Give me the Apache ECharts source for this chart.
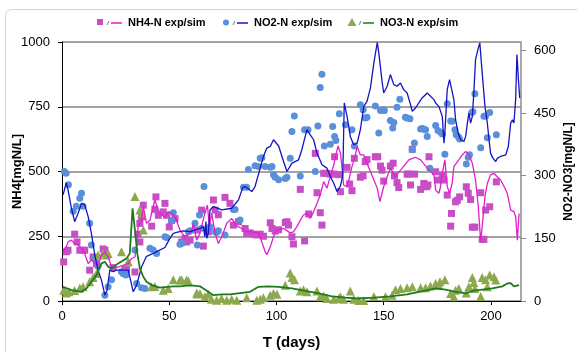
<!DOCTYPE html>
<html>
<head>
    <meta charset="utf-8">
    <script type="text/javascript" src="https://cdn.jsdelivr.net/npm/echarts@6/dist/echarts.min.js"></script>
    <title>NH4 / NO2 / NO3</title>
</head>
<body style="margin:0;background:#fff;">
    <div id="container" style="width:577px;height:352px;"></div>
    <script type="text/javascript">
    // 数据: [天数, 浓度]
    var nh4Exp = [
        [0.8,151],[2.0,190],[2.8,196],[5.9,258],[7.0,228],[8.3,196],[9.8,196],[10.6,196],[12.9,119],[14.5,170],
        [16.1,144],[19.2,201],[20.0,196],[23.8,129],[29.3,124],[30.1,121],[34.0,112],[35.4,258],[36.3,228],[36.3,300],
        [37.1,325],[37.9,370],[41.8,289],[43.3,354],[43.8,402],[44.9,331],[47.2,344],[48.0,377],[48.8,331],[50.0,286],
        [51.1,311],[52.7,318],[55.8,228],[57.3,241],[58.1,228],[59.7,235],[62.8,274],[65.1,351],[65.9,212],[68.2,267],
        [70.6,390],[71.4,351],[72.9,333],[76.0,400],[78.3,377],[79.9,293],[82.3,306],[85.4,280],[86.1,261],[87.7,263],
        [89.3,258],[90.8,255],[92.4,258],[93.9,250],[97.1,302],[97.9,280],[99.4,270],[101.0,275],[104.1,303],[104.9,306],
        [105.6,293],[107.2,248],[107.9,220],[111.1,431],[113.1,232],[115.0,336],[118.1,570],[118.9,418],[120.4,341],[121.2,293],
        [122.0,493],[123.5,493],[125.1,490],[126.7,490],[127.1,557],[129.0,488],[129.8,422],[132.9,516],[134.1,452],[135.2,426],
        [136.3,551],[139.1,478],[140.4,483],[141.4,538],[142.2,546],[146.1,557],[147.2,557],[148.5,521],[149.2,505],[150.0,463],
        [153.1,521],[154.4,532],[155.0,483],[156.2,457],[157.0,438],[160.9,490],[161.7,490],[162.5,448],[163.3,586],[164.4,490],
        [167.2,431],[168.7,454],[170.0,441],[170.6,448],[171.1,557],[174.2,499],[175.3,467],[177.3,483],[178.1,467],[179.6,409],
        [181.2,289],[181.6,338],[183.5,383],[184.3,389],[185.4,402],[188.5,441],[189.4,416],[190.5,392],[191.3,285],[192.5,285],
        [195.2,418],[195.9,238],[196.7,238],[197.5,351],[199.4,364],[202.5,460]
    ];
    var nh4Sim = [
        [0.5,190],[2.0,209],[2.8,228],[4.4,235],[5.9,222],[7.5,216],[9.1,203],[10.6,183],[12.2,145],[13.7,158],
        [15.3,145],[16.8,138],[18.4,177],[20.0,190],[21.5,170],[23.1,132],[25.4,129],[28.5,138],[30.9,145],[32.4,164],
        [34.0,170],[34.8,209],[35.5,287],[37.1,312],[37.9,364],[39.4,300],[41.0,312],[42.5,364],[43.3,390],[44.9,351],
        [46.4,332],[48.0,325],[49.5,345],[51.1,338],[52.7,325],[55.0,274],[57.3,248],[60.4,267],[61.2,300],[62.8,235],
        [64.3,261],[66.6,338],[67.8,370],[68.7,287],[69.8,338],[71.4,261],[72.9,222],[74.5,248],[76.8,300],[79.1,319],
        [81.5,289],[83.8,280],[86.1,267],[88.5,267],[91.6,263],[93.2,228],[94.7,190],[95.5,179],[97.1,209],[98.6,248],
        [100.2,274],[103.3,280],[106.4,263],[107.9,267],[109.5,287],[111.1,312],[112.6,332],[114.2,338],[115.7,319],[117.3,345],
        [118.9,377],[120.4,409],[122.0,461],[123.5,435],[125.1,480],[126.7,525],[127.7,564],[128.7,599],[129.8,571],[130.5,519],
        [131.3,448],[132.6,442],[133.7,467],[135.2,519],[136.8,564],[137.6,597],[139.1,564],[140.7,564],[142.2,532],[143.8,500],
        [145.4,467],[147.0,435],[148.2,384],[148.8,390],[150.0,442],[151.6,480],[153.1,513],[155.4,480],[158.6,513],[161.7,545],
        [164.8,555],[167.2,545],[170.3,513],[173.4,487],[174.2,428],[175.7,416],[176.5,442],[177.3,493],[178.5,545],[179.6,442],
        [180.7,416],[181.9,454],[182.7,519],[185.0,545],[186.6,564],[188.2,577],[189.7,564],[191.3,532],[192.8,467],[194.1,364],
        [195.2,229],[195.9,287],[197.2,403],[198.3,454],[199.8,487],[201.4,493],[202.9,480],[204.5,467],[206.1,442],[207.6,416],
        [209.2,351],[210.7,345],[211.5,325],[212.3,235],[213.1,338]
    ];
    var no2Exp = [
        [1.1,310],[1.9,306],[3.0,278],[5.2,215],[6.7,227],[8.3,246],[9.1,258],[9.8,227],[12.9,186],[13.7,134],
        [15.3,102],[16.8,83],[20.0,14],[21.5,34],[23.1,51],[27.7,70],[28.5,66],[29.8,62],[34.0,122],[34.8,42],
        [37.1,32],[38.6,30],[41.0,126],[42.5,122],[44.1,114],[48.0,154],[48.8,152],[51.1,192],[51.9,211],[55.0,136],
        [55.8,138],[58.9,166],[59.7,168],[62.0,186],[63.1,134],[64.1,206],[65.1,174],[66.2,274],[69.0,178],[71.4,166],
        [72.1,164],[72.9,168],[76.0,158],[79.9,219],[80.7,219],[83.0,194],[84.6,272],[86.1,272],[86.9,315],[90.0,324],
        [91.6,322],[92.4,342],[93.2,343],[94.7,322],[97.1,320],[97.9,322],[98.6,302],[99.4,296],[101.0,290],[104.1,293],
        [104.9,296],[106.4,342],[107.2,406],[108.3,443],[111.1,299],[113.1,410],[114.7,410],[118.1,310],[119.3,419],[120.4,511],
        [121.2,543],[122.3,371],[125.1,375],[126.2,418],[127.1,394],[127.7,384],[129.3,448],[132.1,422],[135.2,410],[136.3,371],
        [139.1,470],[140.4,458],[141.4,438],[142.2,440],[146.1,467],[147.7,402],[148.5,456],[149.7,457],[150.3,456],[153.1,432],
        [154.2,414],[154.7,427],[156.2,464],[157.5,483],[160.1,440],[160.9,438],[162.2,436],[163.3,362],[164.3,378],[167.2,412],
        [168.0,413],[168.7,411],[169.5,410],[170.3,394],[171.5,318],[174.2,420],[175.3,408],[176.5,404],[177.3,400],[178.5,351],
        [179.6,472],[181.2,431],[181.9,430],[183.2,410],[183.8,398],[184.8,393],[185.4,388],[188.5,328],[189.4,344],[190.0,350],
        [191.0,451],[191.6,453],[192.5,496],[195.2,367],[196.7,442],[197.5,443],[198.3,391],[199.4,451],[202.5,398]
    ];
    var no2Sim = [
        [0.5,254],[2.0,283],[2.8,266],[4.4,222],[5.9,190],[7.5,210],[9.1,234],[10.6,230],[12.2,202],[13.7,162],
        [15.3,110],[16.8,74],[18.4,50],[20.0,14],[21.0,26],[22.3,74],[23.8,70],[25.4,74],[30.9,74],[33.2,22],
        [34.8,38],[37.1,82],[39.4,107],[41.8,112],[44.1,118],[48.0,128],[50.3,150],[51.9,162],[53.4,164],[56.6,168],
        [59.7,166],[64.3,174],[65.9,178],[66.6,154],[67.1,190],[67.5,150],[68.2,162],[69.0,218],[70.6,226],[74.5,218],
        [79.1,222],[82.3,242],[84.3,272],[85.4,274],[88.5,262],[90.0,274],[92.4,318],[93.9,346],[95.5,366],[97.1,370],
        [98.6,386],[101.0,371],[103.3,334],[104.9,310],[105.6,306],[107.2,330],[110.3,338],[111.8,362],[113.4,394],[114.2,410],
        [115.7,398],[117.3,386],[118.9,354],[121.2,326],[123.5,318],[125.1,298],[126.7,282],[128.2,262],[129.8,275],[130.9,300],
        [131.6,474],[132.9,442],[133.7,418],[134.4,394],[136.0,374],[137.6,378],[139.1,410],[140.7,466],[142.2,478],[143.8,510],
        [145.4,570],[147.0,619],[147.7,594],[149.3,522],[150.0,498],[151.6,514],[153.1,542],[153.9,546],[154.7,518],[156.2,514],
        [157.8,522],[159.3,506],[160.9,498],[162.5,470],[163.3,454],[164.8,462],[167.9,486],[170.3,498],[173.4,482],[174.2,474],
        [175.7,466],[177.3,442],[178.1,378],[178.5,402],[179.6,506],[180.7,530],[181.6,526],[182.7,482],[183.5,434],[184.7,402],
        [185.8,386],[187.4,382],[188.2,394],[188.9,422],[189.7,450],[190.5,426],[191.3,442],[192.0,498],[192.8,578],[194.1,606],
        [194.8,618],[195.9,546],[197.2,466],[198.3,426],[199.1,386],[199.8,354],[200.9,342],[202.2,334],[203.0,342],[203.8,338],
        [204.5,346],[205.3,342],[206.9,350],[208.1,370],[209.2,426],[210.0,434],[210.7,426],[211.5,482],[212.1,590],[212.8,530],
        [213.4,486]
    ];
    var no3Exp = [
        [0.8,26],[2.0,19],[3.3,22],[5.9,25],[8.3,31],[9.8,34],[12.9,46],[14.5,56],[16.1,66],[16.8,110],
        [19.2,115],[20.7,110],[21.5,114],[27.7,118],[30.9,94],[34.0,250],[36.3,218],[37.1,210],[37.9,170],[41.8,34],
        [43.3,35],[47.2,26],[49.5,30],[51.9,51],[55.0,50],[55.8,50],[58.1,50],[58.9,48],[62.8,19],[63.1,17],
        [64.3,18],[66.6,10],[68.2,16],[69.7,4],[72.1,2],[74.4,6],[76.8,2],[79.1,4],[81.5,2],[86.1,8],
        [90.8,2],[92.4,4],[93.9,8],[97.1,14],[98.6,18],[100.2,16],[104.1,38],[106.4,67],[107.2,56],[108.4,51],
        [111.1,24],[112.6,27],[114.2,22],[118.9,24],[120.4,10],[122.0,12],[123.5,6],[126.7,4],[129.0,6],[129.8,10],
        [131.3,4],[134.4,24],[136.0,4],[138.3,1],[140.7,1],[145.4,11],[150.8,10],[153.9,14],[155.5,27],[157.8,30],
        [160.9,32],[163.3,34],[167.2,32],[169.5,32],[171.8,36],[174.2,42],[176.2,46],[175.7,38],[178.5,51],[181.2,18],
        [182.7,10],[183.5,26],[185.0,30],[188.5,19],[189.7,34],[191.3,56],[192.0,44],[192.5,30],[195.2,11],[195.9,56],
        [197.5,51],[198.3,34],[199.4,62],[201.4,58],[202.2,50]
    ];
    var no3Sim = [
        [0.5,34],[4.4,26],[9.1,22],[11.4,30],[13.7,46],[16.1,62],[18.4,90],[20.0,94],[21.5,82],[23.1,78],
        [26.2,90],[30.1,102],[31.6,114],[32.9,222],[34.0,170],[35.1,114],[36.3,78],[37.9,58],[39.4,46],[41.8,38],
        [45.6,32],[51.9,35],[55.0,35],[58.1,37],[61.2,37],[64.4,35],[65.9,30],[68.2,22],[70.6,14],[74.5,16],
        [78.3,16],[83.0,19],[87.7,22],[91.6,34],[96.3,35],[101.0,34],[107.2,30],[113.4,24],[119.6,18],[125.9,11],
        [132.1,8],[137.6,6],[145.4,8],[153.1,11],[160.9,16],[168.7,24],[174.2,30],[178.8,27],[183.5,22],[188.2,18],
        [191.3,24],[195.9,27],[200.6,30],[205.3,35],[207.6,42],[209.2,43],[210.7,35],[213.1,38]
    ];
    var xTicks = [0, 50, 100, 150, 200];
    var leftTicks = [0, 250, 500, 750, 1000];
    var rightTicks = [0, 150, 300, 450, 600];

    var colors = {
        nh4Exp: '#C64FC6', nh4Sim: '#E41ECC',
        no2Exp: '#5A8FDA', no2Sim: '#1414C4',
        no3Exp: '#8CA94F', no3Sim: '#1F7A1F'
    };
    var fontFamily = "'Liberation Sans', Arial, sans-serif";

    // 图例 (自绘: 符号 + 斜线 + 线段 + 文字)
    function legendItem(x, symbol, expColor, simColor, label) {
        var items = [];
        if (symbol === 'rect') {
            items.push({ type: 'rect', shape: { x: x - 3, y: 19, width: 6, height: 6 }, style: { fill: expColor } });
        } else if (symbol === 'circle') {
            items.push({ type: 'circle', shape: { cx: x, cy: 22.5, r: 3 }, style: { fill: expColor } });
        } else {
            items.push({ type: 'polygon', shape: { points: [[x, 18], [x + 4.5, 26], [x - 4.5, 26]] }, style: { fill: expColor } });
        }
        items.push({ type: 'line', shape: { x1: x + 7, y1: 25, x2: x + 9, y2: 21 }, style: { stroke: '#555', lineWidth: 0.8 } });
        items.push({ type: 'line', shape: { x1: x + 11, y1: 23, x2: x + 22, y2: 23 }, style: { stroke: simColor, lineWidth: 1.5 } });
        items.push({
            type: 'text', x: x + 28, y: 23,
            style: { text: label, fill: '#000', font: 'bold 11px ' + fontFamily, verticalAlign: 'middle' }
        });
        return items;
    }

    function plain(v) { return String(v); }

    var myChart = echarts.init(document.getElementById('container'), null, { renderer: 'canvas' });

    var option = {
        animation: false,
        backgroundColor: '#fff',
        textStyle: { fontFamily: fontFamily },
        grid: { left: 62, right: 56, top: 42, bottom: 51, containLabel: false, outerBoundsMode: 'none' },
        graphic: [
            { type: 'rect', z: -1, shape: { x: 5.5, y: 9.5, width: 600, height: 400, r: 6 },
              style: { fill: 'none', stroke: '#D4D4D4', lineWidth: 1 } }
        ].concat(
            legendItem(100, 'rect', colors.nh4Exp, colors.nh4Sim, 'NH4-N exp/sim'),
            legendItem(226, 'circle', colors.no2Exp, colors.no2Sim, 'NO2-N exp/sim'),
            legendItem(352, 'triangle', colors.no3Exp, colors.no3Sim, 'NO3-N exp/sim')
        ),
        xAxis: {
            type: 'value', min: 0, max: 214, interval: 50,
            name: 'T (days)', nameLocation: 'middle', nameGap: 34,
            nameTextStyle: { fontWeight: 'bold', fontSize: 15, color: '#000' },
            axisLine: { lineStyle: { color: '#000', width: 1 } },
            axisTick: { show: true, length: 4, customValues: xTicks, lineStyle: { color: '#000' } },
            axisLabel: { customValues: xTicks, fontSize: 13, color: '#000', margin: 9, formatter: plain },
            splitLine: { show: false }
        },
        yAxis: [{
            type: 'value', min: 0, max: 1000, interval: 250,
            name: 'NH4[mgN/L]', nameLocation: 'middle', nameGap: 38, nameMoveOverlap: false,
            nameTextStyle: { fontWeight: 'bold', fontSize: 13, color: '#000' },
            axisLine: { show: true, lineStyle: { color: '#000', width: 1 } },
            axisTick: { show: true, length: 4, lineStyle: { color: '#000' } },
            axisLabel: { customValues: leftTicks, fontSize: 13, color: '#000', margin: 12, formatter: plain },
            splitLine: { show: true, lineStyle: { color: '#858585', width: 1.5 } }
        }, {
            type: 'value', min: 0, max: 620, interval: 150,
            name: 'NO2-NO3[mgN/L]', nameLocation: 'middle', nameGap: 42, nameRotate: 90, nameMoveOverlap: false,
            nameTextStyle: { fontWeight: 'bold', fontSize: 12, color: '#000' },
            axisLine: { show: true, lineStyle: { color: '#8C8C8C', width: 1.5 } },
            axisTick: { show: true, length: 5, customValues: rightTicks, lineStyle: { color: '#8C8C8C' } },
            axisLabel: { customValues: rightTicks, fontSize: 13, color: '#000', margin: 13, formatter: plain },
            splitLine: { show: false }
        }],
        series: [
            { name: 'NH4-N exp', type: 'scatter', yAxisIndex: 0, data: nh4Exp, symbol: 'rect', symbolSize: 7,
              itemStyle: { color: colors.nh4Exp, opacity: 1 } },
            { name: 'NO2-N exp', type: 'scatter', yAxisIndex: 1, data: no2Exp, symbol: 'circle', symbolSize: 7,
              itemStyle: { color: colors.no2Exp, opacity: 1 } },
            { name: 'NO3-N exp', type: 'scatter', yAxisIndex: 1, data: no3Exp, symbol: 'triangle', symbolSize: 9,
              itemStyle: { color: colors.no3Exp, opacity: 1 } },
            { name: 'NH4-N sim', type: 'line', yAxisIndex: 0, data: nh4Sim, showSymbol: false,
              lineStyle: { color: colors.nh4Sim, width: 1.3 } },
            { name: 'NO2-N sim', type: 'line', yAxisIndex: 1, data: no2Sim, showSymbol: false,
              lineStyle: { color: colors.no2Sim, width: 1.3 } },
            { name: 'NO3-N sim', type: 'line', yAxisIndex: 1, data: no3Sim, showSymbol: false,
              lineStyle: { color: colors.no3Sim, width: 1.8 } }
        ]
    };

    myChart.setOption(option);
    </script>
</body>
</html>
